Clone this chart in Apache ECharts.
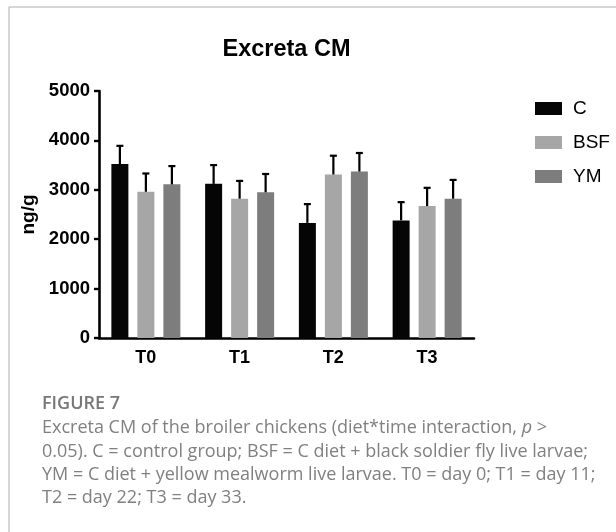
<!DOCTYPE html>
<html>
<head>
<meta charset="utf-8">
<style>
  html, body { margin: 0; padding: 0; background: #fff; }
  #chart { width: 616px; height: 532px; }
</style>
<script src="https://cdn.jsdelivr.net/npm/echarts@6/dist/echarts.min.js"></script>
</head>
<body>
<div id="chart"></div>
<script>
// Excreta CM (ng/g) per sampling time and diet group: mean and SD
const timePoints = ['T0', 'T1', 'T2', 'T3'];
const groups = ['C', 'BSF', 'YM'];
const meanC   = [3520, 3120, 2330, 2380];
const meanBSF = [2960, 2820, 3310, 2670];
const meanYM  = [3110, 2950, 3370, 2820];
const sdC     = [370, 380, 380, 370];
const sdBSF   = [370, 360, 380, 370];
const sdYM    = [370, 370, 375, 380];
const yTicks  = [0, 1000, 2000, 3000, 4000, 5000];

const captionTitle = 'FIGURE 7';
const captionLines = [
  'Excreta CM of the broiler chickens (diet*time interaction, {i|p} >',
  '0.05). C = control group; BSF = C diet + black soldier fly live larvae;',
  'YM = C diet + yellow mealworm live larvae. T0 = day 0; T1 = day 11;',
  'T2 = day 22; T3 = day 33.'
];

const means = [meanC, meanBSF, meanYM];
const sds = [sdC, sdBSF, sdYM];
const colors = ['#050505', '#a6a6a6', '#7d7d7d'];

const BAR_W = 17;
const BAR_GAP = 9;
const AXIS_FONT = 'Liberation Sans, Arial, sans-serif';
const CAPTION_FONT = '"Open Sans", sans-serif';

const grid = { left: 99, right: 142, top: 91, bottom: 194 };

// error bar data: [category index, mean, mean + sd, group index]
const errData = [];
groups.forEach((g, gi) => {
  timePoints.forEach((t, ti) => {
    errData.push([ti, means[gi][ti], means[gi][ti] + sds[gi][ti], gi]);
  });
});

const barSeries = groups.map((g, gi) => ({
  name: g,
  type: 'bar',
  data: means[gi],
  barWidth: BAR_W,
  barGap: (BAR_GAP / BAR_W * 100) + '%',
  itemStyle: { color: colors[gi] },
  z: 2
}));

const errorSeries = {
  type: 'custom',
  data: errData,
  z: 5,
  silent: true,
  encode: { x: 0, y: [1, 2] },
  renderItem: function (params, api) {
    const cat = api.value(0);
    const gi = api.value(3);
    const dx = (gi - 1) * (BAR_W + BAR_GAP);
    const pBase = api.coord([cat, api.value(1)]);
    const pTop = api.coord([cat, api.value(2)]);
    const x = pBase[0] + dx;
    const capHalf = 3.5;
    const style = { stroke: '#000', lineWidth: 2.2 };
    return {
      type: 'group',
      children: [
        { type: 'line', shape: { x1: x, y1: pBase[1], x2: x, y2: pTop[1] }, style: style },
        { type: 'line', shape: { x1: x - capHalf, y1: pTop[1], x2: x + capHalf, y2: pTop[1] }, style: style }
      ]
    };
  }
};

const plotCenterX = grid.left + (616 - grid.left - grid.right) / 2;

const captionGraphics = [
  {
    type: 'text', left: 42, top: 395,
    style: { text: captionTitle, font: '600 18px ' + CAPTION_FONT, fill: '#777777' }
  }
].concat(captionLines.map((line, i) => ({
  type: 'text', left: 42, top: 419 + i * 23.4,
  style: {
    text: line,
    font: '18px ' + CAPTION_FONT,
    fill: '#808080',
    rich: { i: { fontStyle: 'italic', fontSize: 18, fontFamily: 'Open Sans', fill: '#808080' } }
  }
})));

const chart = echarts.init(document.getElementById('chart'), null, { renderer: 'canvas' });
chart.setOption({
  animation: false,
  backgroundColor: '#ffffff',
  grid: grid,
  legend: {
    data: groups,
    orient: 'vertical',
    left: 530,
    top: 94,
    icon: 'rect',
    itemWidth: 27,
    itemHeight: 13,
    itemGap: 15,
    textStyle: { fontSize: 19, fontFamily: AXIS_FONT, color: '#000', padding: [0, 0, 0, 6], lineHeight: 19 }
  },
  xAxis: {
    type: 'category',
    data: timePoints,
    axisLine: { lineStyle: { color: '#000', width: 2.6 } },
    axisTick: { alignWithLabel: true, length: 6, lineStyle: { color: '#000', width: 2.4 } },
    axisLabel: { color: '#000', fontSize: 18, fontWeight: 'bold', fontFamily: AXIS_FONT, margin: 11 }
  },
  yAxis: {
    type: 'value',
    min: yTicks[0],
    max: yTicks[yTicks.length - 1],
    interval: yTicks[1] - yTicks[0],
    name: 'ng/g',
    nameLocation: 'middle',
    nameGap: 51,
    nameTextStyle: { color: '#000', fontSize: 19, fontWeight: 'bold', fontFamily: AXIS_FONT },
    axisLine: { show: true, lineStyle: { color: '#000', width: 2.6 } },
    axisTick: { show: true, length: 5, lineStyle: { color: '#000', width: 2.4 } },
    splitLine: { show: false },
    axisLabel: {
      color: '#000', fontSize: 18.5, fontWeight: 'bold', fontFamily: AXIS_FONT, margin: 9,
      formatter: function (v) { return String(v); }
    }
  },
  graphic: [
    { type: 'line', shape: { x1: 9, y1: 7, x2: 616, y2: 7 }, style: { stroke: '#c9c9c9', lineWidth: 1.5 } },
    { type: 'line', shape: { x1: 9, y1: 7, x2: 9, y2: 532 }, style: { stroke: '#c9c9c9', lineWidth: 1.5 } },
    {
      type: 'text', x: plotCenterX, y: 50,
      style: { text: 'Excreta CM', font: 'bold 23.5px "Liberation Sans", Arial, sans-serif', fill: '#000', align: 'center', verticalAlign: 'middle' }
    }
  ].concat(captionGraphics),
  series: barSeries.concat([errorSeries])
});
</script>
</body>
</html>
